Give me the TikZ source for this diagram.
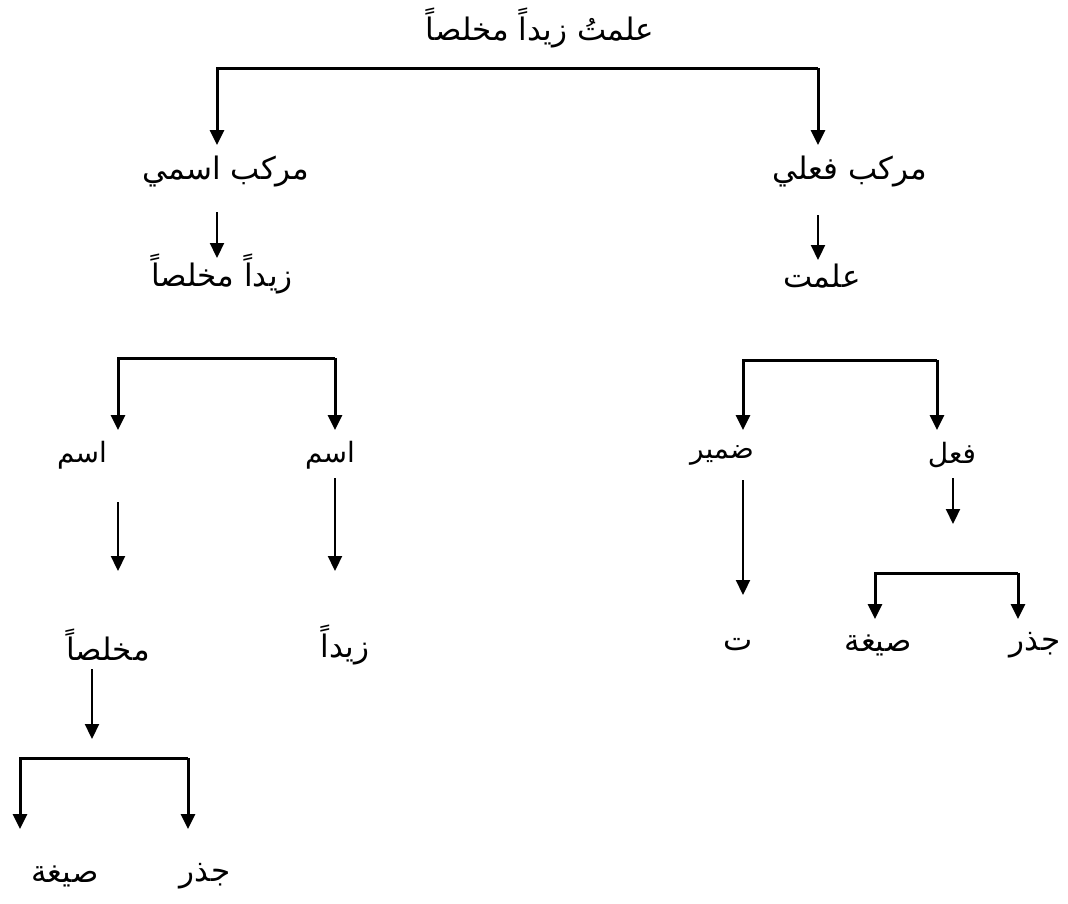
\documentclass[tikz,border=0pt]{standalone}
\usepackage{fontspec}
\usetikzlibrary{arrows.meta}
\newfontfamily\arabicfont[Script=Arabic]{DejaVu Sans}
\TeXXeTstate=1

\begin{document}
\begin{tikzpicture}[x=1pt,y=-1pt,
  lbl/.style={font=\arabicfont\fontsize{31}{36}\selectfont, inner sep=0pt},
  slbl/.style={font=\arabicfont\fontsize{28}{32}\selectfont, inner sep=0pt},
  arr/.style={line width=2.2pt, -{Triangle[width=14pt,length=15pt]}},
  bar/.style={line width=3pt, line join=miter, -{Triangle[width=14pt,length=15pt]}}]
\useasboundingbox[fill=white] (0,0) rectangle (1068,903);

% sentence and its two phrases
\node[lbl] (root) at (540,28)  {\beginR علمتُ زيداً مخلصاً\endR};
\node[lbl] (np)   at (226,172) {\beginR مركب اسمي\endR};
\node[lbl] (vp)   at (850,172) {\beginR مركب فعلي\endR};
\node[lbl] (np2)  at (222,274) {\beginR زيداً مخلصاً\endR};
\node[lbl] (vp2)  at (822,276) {\beginR علمت\endR};

% word level
\node[slbl] (n1) at (82,455)  {\beginR اسم\endR};
\node[slbl] (n2) at (330,455) {\beginR اسم\endR};
\node[slbl] (v1) at (722,455) {\beginR ضمير\endR};
\node[slbl] (v2) at (952,455) {\beginR فعل\endR};

\node[lbl] (m)  at (108,645) {\beginR مخلصاً\endR};
\node[lbl] (z)  at (345,645) {\beginR زيداً\endR};
\node[lbl] (t)  at (738,645) {\beginR ت\endR};
\node[lbl] (s)  at (878,645) {\beginR صيغة\endR};
\node[lbl] (j)  at (1035,645) {\beginR جذر\endR};

\node[lbl] (s2) at (65,876)  {\beginR صيغة\endR};
\node[lbl] (j2) at (205,876) {\beginR جذر\endR};

% bracket under the sentence
\coordinate (rL) at (217,68);  \coordinate (rR) at (818,68);
\coordinate (npT) at (217,145); \coordinate (vpT) at (818,145);
\draw[bar] (rR) -- (rL) -- (npT);
\draw[bar] (rR) -- (vpT);

% phrase to its words
\coordinate (np0) at (217,212); \coordinate (np1) at (217,258);
\coordinate (vp0) at (818,215); \coordinate (vp1) at (818,260);
\draw[arr] (np0) -- (np1);
\draw[arr] (vp0) -- (vp1);

% bracket under the noun phrase
\coordinate (aL) at (118,358); \coordinate (aR) at (335,358);
\coordinate (aLT) at (118,430); \coordinate (aRT) at (335,430);
\draw[bar] (aR) -- (aL) -- (aLT);
\draw[bar] (aR) -- (aRT);

% bracket under the verb
\coordinate (bL) at (743,360); \coordinate (bR) at (937,360);
\coordinate (bLT) at (743,430); \coordinate (bRT) at (937,430);
\draw[bar] (bR) -- (bL) -- (bLT);
\draw[bar] (bR) -- (bRT);

% single arrows below the word level
\coordinate (n1a) at (118,502); \coordinate (n1b) at (118,571);
\coordinate (n2a) at (335,478); \coordinate (n2b) at (335,571);
\coordinate (v1a) at (743,480); \coordinate (v1b) at (743,595);
\coordinate (v2a) at (953,478); \coordinate (v2b) at (953,524);
\draw[arr] (n1a) -- (n1b);
\draw[arr] (n2a) -- (n2b);
\draw[arr] (v1a) -- (v1b);
\draw[arr] (v2a) -- (v2b);

% root and pattern of the verb
\coordinate (cL) at (875,573); \coordinate (cR) at (1018,573);
\coordinate (cLT) at (875,619); \coordinate (cRT) at (1018,619);
\draw[bar] (cR) -- (cL) -- (cLT);
\draw[bar] (cR) -- (cRT);

% root and pattern of the adjective
\coordinate (m0) at (92,669); \coordinate (m1) at (92,739);
\draw[arr] (m0) -- (m1);
\coordinate (dL) at (20,758); \coordinate (dR) at (188,758);
\coordinate (dLT) at (20,829); \coordinate (dRT) at (188,829);
\draw[bar] (dR) -- (dL) -- (dLT);
\draw[bar] (dR) -- (dRT);
\end{tikzpicture}
\end{document}
